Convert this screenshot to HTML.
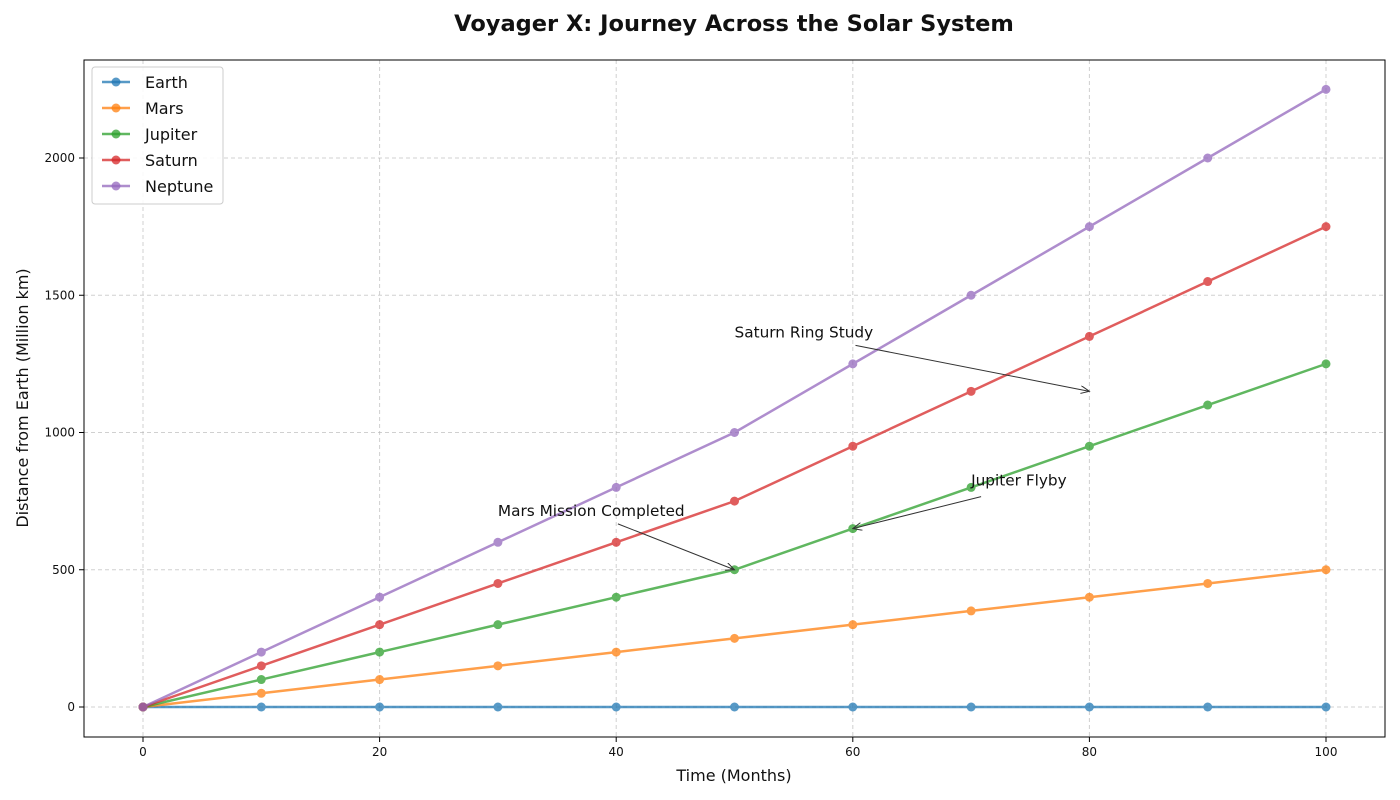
<!DOCTYPE html>
<html><head><meta charset="utf-8">
<style>
html,body{margin:0;padding:0;background:#fff;}
svg{display:block;font-family:"DejaVu Sans","Liberation Sans",sans-serif;}
</style></head>
<body>
<svg id="chart" width="1400" height="800" viewBox="0 0 1400 800">
  <text x="734" y="31" text-anchor="middle" font-size="22.5" font-weight="bold" fill="#111">Voyager X: Journey Across the Solar System</text>
  <g id="grid"></g>
  <g id="axes"></g>
  <g id="series"></g>
  <g id="annots"></g>
  <rect x="84" y="60" width="1301" height="677" fill="none" stroke="#000" stroke-width="1"/>
  <text x="734" y="781" text-anchor="middle" font-size="16" fill="#111">Time (Months)</text>
  <text transform="translate(28,398) rotate(-90)" text-anchor="middle" font-size="16" fill="#111">Distance from Earth (Million km)</text>
  <g id="legend"></g>
</svg>
<script>
const months = [0,10,20,30,40,50,60,70,80,90,100];
const earth = [0,0,0,0,0,0,0,0,0,0,0];
const mars = [0,50,100,150,200,250,300,350,400,450,500];
const jupiter = [0,100,200,300,400,500,650,800,950,1100,1250];
const saturn = [0,150,300,450,600,750,950,1150,1350,1550,1750];
const neptune = [0,200,400,600,800,1000,1250,1500,1750,2000,2250];
const seriesNames = ["Earth","Mars","Jupiter","Saturn","Neptune"];
const xTicks = [0,20,40,60,80,100];
const yTicks = [0,500,1000,1500,2000];
const annotations = [
  {label:"Mars Mission Completed", x:50, y:500, tx:30, ty:700},
  {label:"Jupiter Flyby", x:60, y:650, tx:70, ty:810},
  {label:"Saturn Ring Study", x:80, y:1150, tx:50, ty:1350}
];

const colors = ["#1f77b4","#ff7f0e","#2ca02c","#d62728","#9467bd"];
const allSeries = [earth,mars,jupiter,saturn,neptune];
const NS = "http://www.w3.org/2000/svg";
function X(v){return 143 + v*(1326-143)/100;}
function Y(v){return 707 - v*(707-158)/2000;}
function mk(tag, attrs, parent){const e=document.createElementNS(NS,tag);for(const k in attrs)e.setAttribute(k,attrs[k]);parent.appendChild(e);return e;}

const grid=document.getElementById('grid'), axes=document.getElementById('axes');
xTicks.forEach(t=>{
  const g=mk('line',{x1:X(t),x2:X(t),y1:60,y2:737,stroke:'#b0b0b0','stroke-dasharray':'4,3','stroke-opacity':0.6},grid);
  
  
  const tk=mk('line',{x1:X(t),x2:X(t),y1:737,y2:742,stroke:'#000'},axes);
  
  
  const tl=mk('text',{x:X(t),y:756,'text-anchor':'middle','font-size':12,fill:'#111'},axes);
  tl.textContent=t;
  
  
});
yTicks.forEach(t=>{
  const g=mk('line',{x1:84,x2:1385,y1:Y(t),y2:Y(t),stroke:'#b0b0b0','stroke-dasharray':'4,3','stroke-opacity':0.6},grid);
  
  
  const tk=mk('line',{x1:79,x2:84,y1:Y(t),y2:Y(t),stroke:'#000'},axes);
  
  
  const tl=mk('text',{x:75,y:Y(t)+4,'text-anchor':'end','font-size':12,fill:'#111'},axes);
  tl.textContent=t;
  
  
});

const sg=document.getElementById('series');
allSeries.forEach((s,i)=>{
  const g=mk('g',{opacity:0.75},sg);
  
  
  const pl=mk('polyline',{points:s.map((v,j)=>X(months[j])+','+Y(v)).join(' '),fill:'none',stroke:colors[i],'stroke-width':2.5},g);
  
  
  s.forEach((v,j)=>{
    const c=mk('circle',{cx:X(months[j]),cy:Y(v),r:4.5,fill:colors[i]},g);
    
    
  });
});

const ag=document.getElementById('annots');
mk('defs',{},ag).innerHTML='<marker id="ah" markerWidth="10" markerHeight="8" refX="9" refY="4" orient="auto"><path d="M0,0 L9,4 L0,8" fill="none" stroke="#333" stroke-width="1"/></marker>';
const arrowOffsets = [[120,9],[10,12],[121,9]];
annotations.forEach((a,i)=>{
  const tx=X(a.tx), ty=Y(a.ty);
  const t=mk('text',{x:tx,y:ty+1,'font-size':15.3,fill:'#111'},ag);
  t.textContent=a.label;
  
  
  const sx=tx+arrowOffsets[i][0], sy=ty+arrowOffsets[i][1];
  const ex=X(a.x), ey=Y(a.y);
  const l=mk('line',{x1:sx,y1:sy,x2:ex,y2:ey,stroke:'#333','stroke-width':1,'marker-end':'url(#ah)'},ag);
  
  
});

const lg=document.getElementById('legend');
const lb=mk('rect',{x:92,y:67,width:131,height:137,rx:3,fill:'#fff','fill-opacity':0.85,stroke:'#ccc'},lg);


seriesNames.forEach((n,i)=>{
  const y=82+i*26;
  const e=mk('g',{},lg);
  
  
  mk('line',{x1:102,x2:130,y1:y,y2:y,stroke:colors[i],'stroke-width':2.5,opacity:0.75},e);
  mk('circle',{cx:116,cy:y,r:4.5,fill:colors[i],opacity:0.75},e);
  const t=mk('text',{x:145,y:y+6,'font-size':16,fill:'#111'},e);
  t.textContent=n;
});
</script>
</body></html>
